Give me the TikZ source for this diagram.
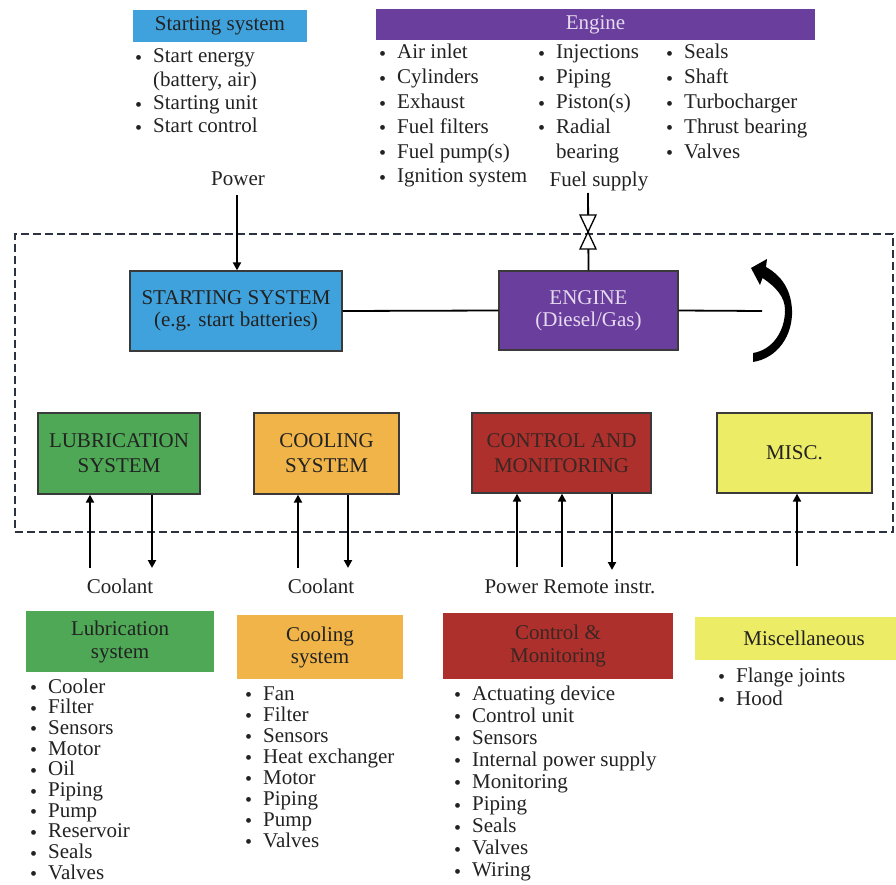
\documentclass[tikz,border=0pt]{standalone}
\usepackage{fontspec}
\setmainfont{Liberation Serif}
\usetikzlibrary{arrows.meta}

\definecolor{startblue}{HTML}{40A2DC}
\definecolor{engpurple}{HTML}{6A3E9C}
\definecolor{lubgreen}{HTML}{4EA855}
\definecolor{coolorange}{HTML}{F0B449}
\definecolor{ctrlred}{HTML}{AE302C}
\definecolor{miscyellow}{HTML}{ECEC66}
\definecolor{lavender}{HTML}{E6DAF0}
\definecolor{ink}{HTML}{222222}
\definecolor{ctrlink}{HTML}{3A2622}
\definecolor{framecol}{HTML}{2C3340}
\definecolor{boxedge}{HTML}{3A3A3A}

% 21pt type with a chosen line distance
\newcommand{\fsz}[1]{\fontsize{21}{#1}\selectfont}
% bullet hung to the left of a list entry
\newcommand{\bul}{\llap{\raisebox{-1.5pt}{\fontsize{20}{20}\selectfont\textbullet}\hspace{11pt}}}

\tikzset{
  item/.style={anchor=base west, inner sep=0pt, font=\fsz{24}, text=ink},
  lbl/.style={anchor=base, inner sep=0pt, font=\fsz{24}, text=ink},
  hdrbox/.style={inner sep=0pt, align=center, text=ink},
  midbox/.style={draw=boxedge, line width=1.3pt, inner sep=0pt, align=center, text=ink},
  arr/.style={line width=2pt, -{Triangle[length=8pt,width=8pt]}},
  link/.style={line width=1.8pt},
}

\begin{document}
\begin{tikzpicture}[x=1pt,y=-1pt]
\useasboundingbox (0,0) rectangle (896,885);

% ---------- system boundary ----------
\node[draw=framecol, line width=2pt, dash pattern=on 8pt off 4pt,
      minimum width=878pt, minimum height=298pt, inner sep=0pt] (boundary) at (454,383) {};

% ---------- top: starting system summary ----------
\node[hdrbox, fill=startblue, minimum width=174pt, minimum height=32pt, font=\fsz{24}]
  (starthdr) at (220,26) {Starting system};
\node[item] (st0) at (153,63) {\bul Start energy};
\node[item] (st1) at (153,87) {(battery, air)};
\node[item] (st2) at (153,110) {\bul Starting unit};
\node[item] (st3) at (153,133) {\bul Start control};

% ---------- top: engine summary ----------
\node[hdrbox, fill=engpurple, minimum width=439pt, minimum height=31pt, font=\fsz{24}, text=lavender]
  (enghdr) at (595.5,24.5) {Engine};
\foreach \t [count=\i from 0] in {Air inlet, Cylinders, Exhaust, Fuel filters, {Fuel pump(s)}, Ignition system}
  \node[item] (ea\i) at (397,59+24.8*\i) {\bul\t};
\foreach \t [count=\i from 0] in {Injections, Piping, {Piston(s)}, Radial}
  \node[item] (eb\i) at (556,59+24.8*\i) {\bul\t};
\node[item] (eb4) at (556,158.2) {bearing};
\foreach \t [count=\i from 0] in {Seals, Shaft, Turbocharger, Thrust bearing, Valves}
  \node[item] (ec\i) at (684,59+24.8*\i) {\bul\t};

\node[lbl] (powerlbl) at (238,186) {Power};
\node[lbl] (fuellbl) at (599,187) {Fuel supply};

% ---------- blocks inside the boundary ----------
\node[midbox, fill=startblue, minimum width=212pt, minimum height=80pt, font=\fsz{22}]
  (startbox) at (236,311) {STARTING SYSTEM\\(e.g. start batteries)};
\node[midbox, fill=engpurple, minimum width=179pt, minimum height=79pt, font=\fsz{22}, text=lavender]
  (engbox) at (588.5,310.5) {ENGINE\\(Diesel/Gas)};

\node[midbox, fill=lubgreen, minimum width=162pt, minimum height=81pt, font=\fsz{25}]
  (lubbox) at (119,453.5) {LUBRICATION\\SYSTEM};
\node[midbox, fill=coolorange, minimum width=145pt, minimum height=81pt, font=\fsz{25}]
  (coolbox) at (326.5,453.5) {COOLING\\SYSTEM};
\node[midbox, fill=ctrlred, minimum width=179pt, minimum height=80pt, font=\fsz{25}, text=ctrlink]
  (ctrlbox) at (561.5,453) {CONTROL AND\\MONITORING};
\node[midbox, fill=miscyellow, minimum width=155pt, minimum height=80pt, font=\fsz{25}]
  (miscbox) at (794.5,453) {MISC.};

% ---------- power and fuel feeds ----------
\coordinate (powertop) at (237,195);
\draw[arr] (powertop) -- (powertop |- startbox.north);

\coordinate (fueltop) at (588,193);
\coordinate (valve) at (588,232);
\draw[link] (fueltop) -- (engbox.north);
\draw[line width=1.3pt, fill=white] (valve) -- ++(-8,-17) -- ++(16,0) -- cycle;
\draw[line width=1.3pt, fill=white] (valve) -- ++(-8,17) -- ++(16,0) -- cycle;

% ---------- drive train ----------
\coordinate (shaftend) at (762,311);
\draw[link] (startbox.east) -- (engbox.west);
\draw[link] (engbox.east) -- (shaftend);

% rotation arrow at the shaft end
\fill (753,362)
  .. controls (778,358) and (793,335) .. (792,310)
  .. controls (791,290) and (782,276) .. (766,267)
  -- (767,259) -- (751,268) -- (760,285) -- (762.5,278)
  .. controls (776,287) and (785,297) .. (785,310)
  .. controls (785,332) and (772,350) .. (753,353)
  -- cycle;

% ---------- flows across the boundary ----------
\coordinate (lubin) at (90,568);
\coordinate (lubout) at (152,568);
\coordinate (coolin) at (298,568);
\coordinate (coolout) at (348,568);
\coordinate (ctrlpow) at (517,567);
\coordinate (ctrlin) at (562,567);
\coordinate (ctrlout) at (612,570);
\coordinate (miscin) at (797,566);

\draw[arr] (lubin) -- (lubin |- lubbox.south);
\draw[arr] (lubout |- lubbox.south) -- (lubout);
\draw[arr] (coolin) -- (coolin |- coolbox.south);
\draw[arr] (coolout |- coolbox.south) -- (coolout);
\draw[arr] (ctrlpow) -- (ctrlpow |- ctrlbox.south);
\draw[arr] (ctrlin) -- (ctrlin |- ctrlbox.south);
\draw[arr] (ctrlout |- ctrlbox.south) -- (ctrlout);
\draw[arr] (miscin) -- (miscin |- miscbox.south);

\node[lbl] (coolant1) at (120,593) {Coolant};
\node[lbl] (coolant2) at (321,593) {Coolant};
\node[lbl] (ctrllbl) at (570,593) {Power Remote instr.};

% ---------- bottom: component lists ----------
\node[hdrbox, fill=lubgreen, minimum width=188pt, minimum height=61pt, font=\fsz{23}]
  (lubhdr) at (120,641.5) {Lubrication\\system};
\foreach \t [count=\i from 0] in {Cooler, Filter, Sensors, Motor, Oil, Piping, Pump, Reservoir, Seals, Valves}
  \node[item] (lub\i) at (48,693+20.7*\i) {\bul\t};

\node[hdrbox, fill=coolorange, minimum width=166pt, minimum height=64pt, font=\fsz{22}]
  (coolhdr) at (320,647) {Cooling\\system};
\foreach \t [count=\i from 0] in {Fan, Filter, Sensors, Heat exchanger, Motor, Piping, Pump, Valves}
  \node[item] (cool\i) at (263,700+21*\i) {\bul\t};

\node[hdrbox, fill=ctrlred, minimum width=230pt, minimum height=66pt, font=\fsz{23}, text=ctrlink]
  (ctrlhdr) at (558,646) {Control \&\\Monitoring};
\foreach \t [count=\i from 0] in {Actuating device, Control unit, Sensors, Internal power supply, Monitoring, Piping, Seals, Valves, Wiring}
  \node[item] (ctrl\i) at (472,700+22.1*\i) {\bul\t};

\node[hdrbox, fill=miscyellow, minimum width=201pt, minimum height=43pt] (mischdr) at (795.5,638.5) {};
\node[lbl] (mischdrtxt) at (804,645) {Miscellaneous};
\node[item] (misc0) at (736,682) {\bul Flange joints};
\node[item] (misc1) at (736,705) {\bul Hood};

\end{tikzpicture}
\end{document}
